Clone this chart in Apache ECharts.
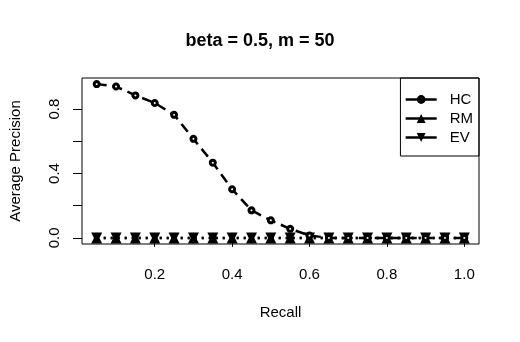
<!DOCTYPE html>
<html>
<head>
<meta charset="utf-8">
<script src="https://cdn.jsdelivr.net/npm/echarts@6/dist/echarts.min.js"></script>
<style>html,body{margin:0;padding:0;background:#fff}#c{width:520px;height:342px}</style>
</head>
<body>
<div id="c"></div>
<script>
var recall = [0.05,0.10,0.15,0.20,0.25,0.30,0.35,0.40,0.45,0.50,0.55,0.60,0.65,0.70,0.75,0.80,0.85,0.90,0.95,1.00];
var hc = [0.955,0.940,0.885,0.838,0.764,0.615,0.467,0.302,0.171,0.109,0.056,0.015,0,0,0,0,0,0,0,0];
var rm = [0,0,0,0,0,0,0,0,0,0,0,0,0,0,0,0,0,0,0,0];
var ev = [0,0,0,0,0,0,0,0,0,0,0,0,0,0,0,0,0,0,0,0];
var xTicks = [0.2,0.4,0.6,0.8,1.0];
var yTicks = [0.0,0.2,0.4,0.6,0.8];
var yLabels = [0.0,0.4,0.8];
var seriesNames = ['HC','RM','EV'];

function pairs(xs, ys){ return xs.map(function(x,i){ return [x, ys[i]]; }); }
var FONT = '"Liberation Sans", Arial, sans-serif';
var chart = echarts.init(document.getElementById('c'), null, {renderer:'canvas'});
chart.setOption({
  animation: false,
  backgroundColor: '#fff',
  title: {
    text: 'beta = 0.5, m = 50',
    left: 'center', top: 27,
    textStyle: {fontFamily: FONT, fontSize: 18, fontWeight: 'bold', color: '#000'}
  },
  legend: {
    orient: 'vertical', right: 41, top: 78,
    data: seriesNames,
    borderColor: '#000', borderWidth: 1, borderRadius: 0,
    padding: [14, 6, 11, 4],
    itemWidth: 31, itemHeight: 11, itemGap: 4,
    textStyle: {fontFamily: FONT, fontSize: 15, color: '#000', padding: [0,0,0,8]},
    itemStyle: {color: '#000', borderWidth: 0},
    lineStyle: {type: 'solid', width: 2.5, color: '#000'}
  },
  grid: {left: 78, right: 41, top: 78, bottom: 98, show: true, borderColor: '#000', borderWidth: 1, containLabel: false},
  xAxis: {
    type: 'value', min: 0.012, max: 1.038,
    name: 'Recall', nameLocation: 'middle', nameGap: 61,
    nameTextStyle: {fontFamily: FONT, fontSize: 15, color: '#000'},
    axisLine: {show: false},
    splitLine: {show: false},
    axisTick: {show: true, length: 9, lineStyle: {color: '#000'}, customValues: xTicks},
    axisLabel: {customValues: xTicks, margin: 23, fontFamily: FONT, fontSize: 15, color: '#000',
      formatter: function(v){ return v.toFixed(1); }}
  },
  yAxis: {
    type: 'value', min: -0.038, max: 0.993,
    name: 'Average Precision', nameLocation: 'middle', nameGap: 59,
    nameTextStyle: {fontFamily: FONT, fontSize: 15, color: '#000'},
    axisLine: {show: false},
    splitLine: {show: false},
    axisTick: {show: true, length: 9, lineStyle: {color: '#000'}, customValues: yTicks},
    axisLabel: {customValues: yLabels, rotate: 90, margin: 20, fontFamily: FONT, fontSize: 15, color: '#000',
      formatter: function(v){ return v.toFixed(1); }}
  },
  series: [
    {name: 'HC', type: 'line', data: pairs(recall, hc), symbol: 'circle', symbolSize: 5,
     itemStyle: {color: '#fff', borderColor: '#000', borderWidth: 3},
     lineStyle: {color: '#000', width: 2.5, type: [10, 6]}, z: 3},
    {name: 'RM', type: 'line', data: pairs(recall, rm), symbol: 'triangle', symbolSize: 11,
     itemStyle: {color: '#000'},
     lineStyle: {color: '#000', width: 2.5, type: [2, 5]}, z: 2},
    {name: 'EV', type: 'line', data: pairs(recall, ev), symbol: 'triangle', symbolRotate: 180, symbolSize: 11,
     itemStyle: {color: '#000'},
     lineStyle: {color: '#000', width: 2.5, type: [2, 5]}, z: 2}
  ]
});
</script>
</body>
</html>
